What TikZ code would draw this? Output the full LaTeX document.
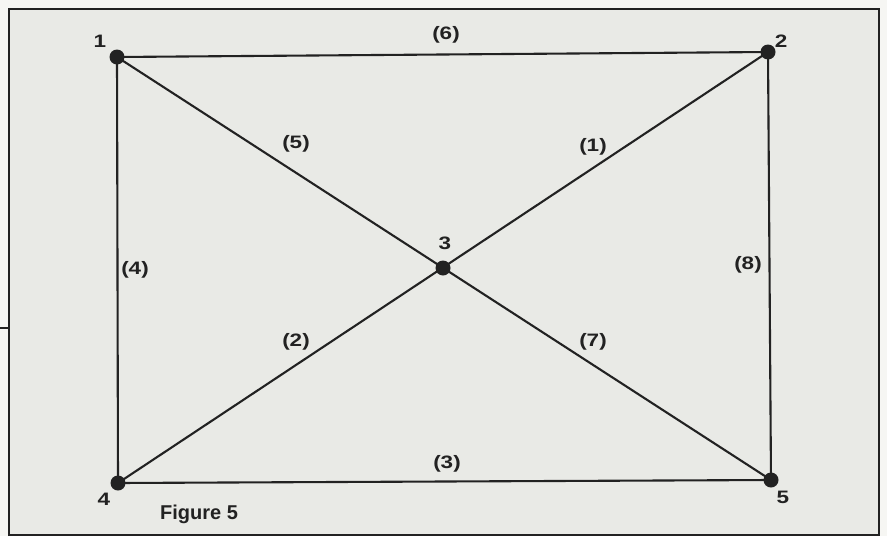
\documentclass[tikz,border=0pt]{standalone}
\usepackage{fontspec}
\setmainfont{Liberation Sans}
\newfontfamily\widefont[FakeStretch=1.25]{Liberation Sans}
\definecolor{paper}{RGB}{233,234,230}
\definecolor{outside}{RGB}{246,246,243}
\definecolor{ink}{RGB}{34,34,34}
\tikzset{
  vtx/.style={circle,fill=ink,inner sep=0pt,minimum size=15pt},
  edge/.style={draw=ink,line width=2.1pt},
  lbl/.style={font=\widefont\fontsize{18}{20}\selectfont\bfseries,text=ink,inner sep=0pt},
  figcaption/.style={font=\fontsize{20}{22}\selectfont\bfseries,text=ink,inner sep=0pt},
  frame/.style={draw=ink,line width=1.6pt}
}
\begin{document}
\begin{tikzpicture}[x=1pt,y=-1pt]
\useasboundingbox (0,0) rectangle (887,536);
\fill[outside] (0,0) rectangle (887,536);
\fill[paper] (9,9) rectangle (879,536);
\draw[frame] (9,536) -- (9,9) -- (879,9) -- (879,535) -- (9,535);
\coordinate (ls) at (0,328);
\coordinate (le) at (9,328);
\draw[frame] (ls) -- (le);
% vertices
\node[vtx] (v1) at (117,57) {};
\node[vtx] (v2) at (768,52) {};
\node[vtx] (v3) at (443,268) {};
\node[vtx] (v4) at (118,483) {};
\node[vtx] (v5) at (771,480) {};
% edges
\draw[edge] (v1.center) -- (v2.center);
\draw[edge] (v1.center) -- (v4.center);
\draw[edge] (v4.center) -- (v5.center);
\draw[edge] (v2.center) -- (v5.center);
\draw[edge] (v1.center) -- (v5.center);
\draw[edge] (v4.center) -- (v2.center);
% vertex labels
\node[lbl] (n1) at (100,41) {1};
\node[lbl] (n2) at (781,41) {2};
\node[lbl] (n3) at (445,243) {3};
\node[lbl] (n4) at (104,499) {4};
\node[lbl] (n5) at (783,497) {5};
% edge labels
\node[lbl] (e6) at (446,35) {(6)};
\node[lbl] (e5) at (296,144) {(5)};
\node[lbl] (e1) at (593,147) {(1)};
\node[lbl] (e4) at (135,270) {(4)};
\node[lbl] (e8) at (748,265) {(8)};
\node[lbl] (e2) at (296,342) {(2)};
\node[lbl] (e7) at (593,342) {(7)};
\node[lbl] (e3) at (447,464) {(3)};
\node[figcaption,anchor=base west] (fig) at (160,519) {Figure 5};
\end{tikzpicture}
\end{document}
